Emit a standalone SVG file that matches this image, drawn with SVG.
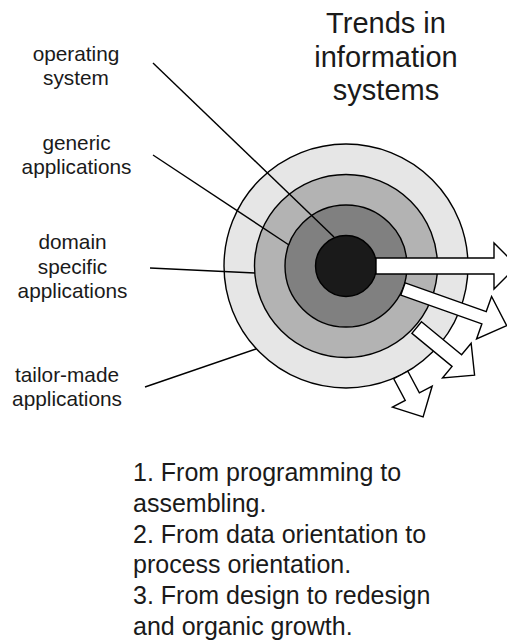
<svg xmlns="http://www.w3.org/2000/svg" width="507" height="641" viewBox="0 0 507 641">
<style>
text{font-family:"Liberation Sans",Arial,sans-serif;fill:#1a1a1a;text-anchor:middle}
.lbl{font-size:20.8px}
.ttl{font-size:29px}
.body{font-size:25px;text-anchor:start}
.ring{stroke:#000;stroke-width:1.4}
.arr{fill:#fff;stroke:#000;stroke-width:1.4;stroke-linejoin:miter}
.ld{stroke:#000;stroke-width:1.4;fill:none}
</style>
<rect width="507" height="641" fill="#fff"/>
<g id="title">
<text class="ttl" x="386" y="33">Trends in</text>
<text class="ttl" x="386" y="67">information</text>
<text class="ttl" x="386" y="100">systems</text>
</g>
<g id="target">
<circle class="ring" cx="346" cy="266" r="122" fill="#e6e6e6"/>
<circle class="ring" cx="346" cy="266" r="91.5" fill="#b3b3b3"/>
<circle class="ring" cx="346" cy="266" r="61" fill="#808080"/>
<circle class="ring" cx="346" cy="266" r="30.5" fill="#1a1a1a"/>
</g>
<g id="connectors">
<line class="ld" x1="153" y1="63" x2="334" y2="237"/>
<line class="ld" x1="153" y1="155" x2="289" y2="245"/>
<line class="ld" x1="150" y1="268" x2="255" y2="273"/>
<line class="ld" x1="145" y1="387" x2="256" y2="349"/>
</g>
<g id="arrows">
<polygon class="arr" points="0,-8 118,-8 118,-23 141,0 118,23 118,8 0,8" transform="translate(376,266)"/>
<polygon class="arr" points="0,-6.5 86,-6.5 86,-22.5 110,0 86,22.5 86,6.5 0,6.5" transform="translate(403,289) rotate(19.5)"/>
<polygon class="arr" points="0,-7.5 52,-7.5 52,-22.5 75,0 52,22.5 52,7.5 0,7.5" transform="translate(416.7,327.5) rotate(39.5)"/>
<polygon class="arr" points="0,-8 24.5,-8 24.5,-22.5 47.5,0 24.5,22.5 24.5,8 0,8" transform="translate(400.8,375) rotate(62)"/>
</g>
<g id="label-os">
<text class="lbl" x="76" y="61">operating</text>
<text class="lbl" x="76" y="85">system</text>
</g>
<g id="label-generic">
<text class="lbl" x="76.5" y="150">generic</text>
<text class="lbl" x="76.5" y="174">applications</text>
</g>
<g id="label-domain">
<text class="lbl" x="72.5" y="249">domain</text>
<text class="lbl" x="72.5" y="273.5">specific</text>
<text class="lbl" x="72.5" y="298">applications</text>
</g>
<g id="label-tailor">
<text class="lbl" x="67" y="382">tailor-made</text>
<text class="lbl" x="67" y="406">applications</text>
</g>
<g id="trends">
<text class="body" x="133" y="481">1. From programming to</text>
<text class="body" x="133" y="511.8">assembling.</text>
<text class="body" x="133" y="542.6">2. From data orientation to</text>
<text class="body" x="133" y="573.4">process orientation.</text>
<text class="body" x="133" y="604.2">3. From design to redesign</text>
<text class="body" x="133" y="635">and organic growth.</text>
</g>
</svg>
